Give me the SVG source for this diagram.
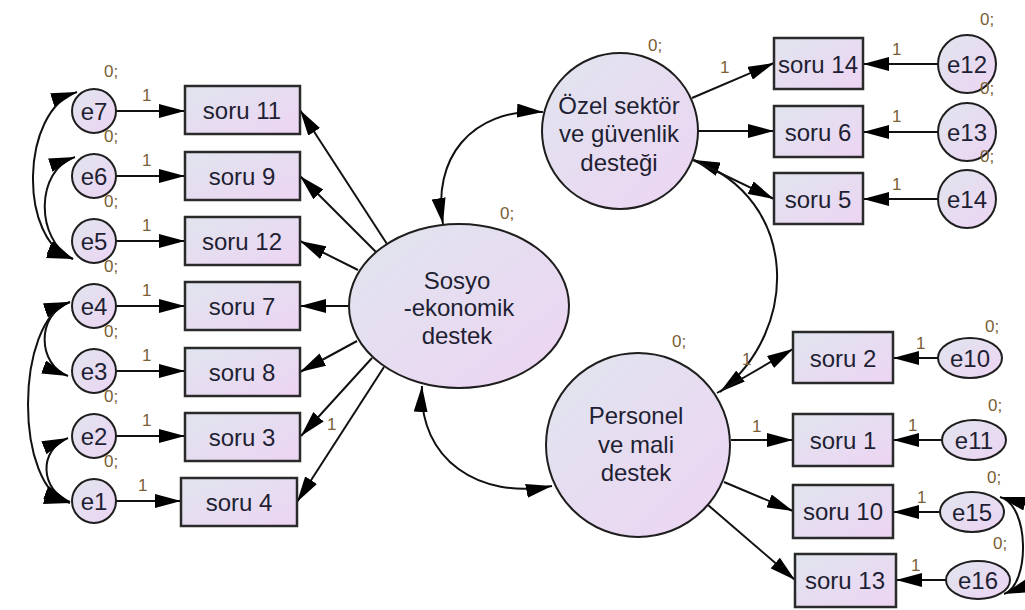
<svg xmlns="http://www.w3.org/2000/svg" width="1025" height="610" viewBox="0 0 1025 610">
  <style>
    .box { fill: url(#fillg); stroke: #2a2a2a; stroke-width: 2.5; }
    .node { fill: url(#fillg); stroke: #1e1e1e; stroke-width: 2; }
    .t { font-family: "Liberation Sans", Arial, sans-serif; font-size: 24px; fill: #1f1f33; text-anchor: middle; }
    .p { font-family: "Liberation Sans", Arial, sans-serif; font-size: 17px; fill: #7a6034; }
    .c { fill: none; stroke: #111; stroke-width: 2; }
    .a { marker-end: url(#ah); }
    .d { marker-start: url(#ah); marker-end: url(#ah); }
  </style>
  <defs>
    <linearGradient id="fillg" x1="0" y1="0" x2="1" y2="1">
      <stop offset="0" stop-color="#e0e5ee"/>
      <stop offset="1" stop-color="#edd4f3"/>
    </linearGradient>
    <marker id="ah" viewBox="0 0 26 14" refX="26" refY="7" markerWidth="26" markerHeight="14" markerUnits="userSpaceOnUse" orient="auto-start-reverse">
      <path d="M0,0 L26,7 L0,14 z" fill="#000"/>
    </marker>
  </defs>
  <rect width="1025" height="610" fill="#fff"/>

  <!-- paths, loadings and covariances -->
  <g id="connectors">
    <!-- error terms into left indicators -->
    <path class="c a" d="M116,111 L185,111"/>
    <path class="c a" d="M116,176 L185,176"/>
    <path class="c a" d="M116,241 L185,241"/>
    <path class="c a" d="M116,306 L185,306"/>
    <path class="c a" d="M116,371 L185,371"/>
    <path class="c a" d="M116,436 L185,436"/>
    <path class="c a" d="M116,501 L181,501"/>
    <!-- Sosyo-ekonomik destek loadings -->
    <path class="c a" d="M387,244 L300,110"/>
    <path class="c a" d="M376,252 L300,176"/>
    <path class="c a" d="M358,270 L300,241"/>
    <path class="c a" d="M349,306 L300,306"/>
    <path class="c a" d="M357,341 L300,372"/>
    <path class="c a" d="M372,358 L301,436"/>
    <path class="c a" d="M384,367 L297,502"/>
    <!-- error covariances, left -->
    <path class="c d" d="M77,92 C20,110 18,242 73,259"/>
    <path class="c d" d="M75,157 C35,170 35,240 73,259"/>
    <path class="c d" d="M70,302 C35,315 38,365 68,376"/>
    <path class="c d" d="M70,302 C14,320 14,490 70,503"/>
    <path class="c d" d="M68,438 C38,450 40,490 70,502"/>
    <!-- factor covariances -->
    <path class="c d" d="M443,224 C432,160 470,108 543,112"/>
    <path class="c d" d="M422,386 C418,460 480,500 552,486"/>
    <path class="c d" d="M694,160 C800,200 800,330 720,392"/>
    <!-- Özel sektör loadings -->
    <path class="c a" d="M692,98 L774,63"/>
    <path class="c a" d="M698,131 L774,131"/>
    <path class="c a" d="M693,160 L774,199"/>
    <path class="c a" d="M938,64 L863,64"/>
    <path class="c a" d="M938,132 L863,132"/>
    <path class="c a" d="M938,199 L863,199"/>
    <!-- Personel ve mali destek loadings -->
    <path class="c a" d="M717,393 L793,349"/>
    <path class="c a" d="M731,440 L793,440"/>
    <path class="c a" d="M724,482 L793,511"/>
    <path class="c a" d="M708,505 L795,580"/>
    <path class="c a" d="M938,358 L893,358"/>
    <path class="c a" d="M942,440 L893,440"/>
    <path class="c a" d="M940,512 L893,512"/>
    <path class="c a" d="M946,580 L896,580"/>
    <path class="c d" d="M1000,497 C1030,505 1030,585 1004,594"/>
    <!-- fixed loading labels -->
    <g class="p">
      <text x="142" y="101">1</text>
      <text x="142" y="166">1</text>
      <text x="142" y="231">1</text>
      <text x="142" y="296">1</text>
      <text x="142" y="361">1</text>
      <text x="142" y="426">1</text>
      <text x="138" y="491">1</text>
      <text x="327" y="430">1</text>
      <text x="720" y="73">1</text>
      <text x="892" y="55">1</text>
      <text x="892" y="122">1</text>
      <text x="892" y="190">1</text>
      <text x="742" y="365">1</text>
      <text x="752" y="432">1</text>
      <text x="916" y="349">1</text>
      <text x="908" y="431">1</text>
      <text x="917" y="503">1</text>
      <text x="911" y="571">1</text>
    </g>
  </g>

  <!-- latent factors -->
  <g id="sosyo">
    <ellipse class="node" cx="459" cy="306" rx="110" ry="82"/>
    <text class="t" x="457" y="289">Sosyo</text>
    <text class="t" x="459" y="316">-ekonomik</text>
    <text class="t" x="457" y="344">destek</text>
    <text class="p" x="500" y="219">0;</text>
  </g>
  <g id="ozel">
    <circle class="node" cx="620" cy="131" r="78"/>
    <text class="t" x="619" y="114">Özel sektör</text>
    <text class="t" x="619" y="142">ve güvenlik</text>
    <text class="t" x="619" y="171">desteği</text>
    <text class="p" x="648" y="51">0;</text>
  </g>
  <g id="personel">
    <circle class="node" cx="638" cy="445" r="92"/>
    <text class="t" x="636" y="424">Personel</text>
    <text class="t" x="636" y="453">ve mali</text>
    <text class="t" x="636" y="481">destek</text>
    <text class="p" x="672" y="347">0;</text>
  </g>

  <!-- left indicators -->
  <g id="soru11"><rect class="box" x="185" y="86" width="115" height="48"/><text class="t" x="242" y="119">soru 11</text></g>
  <g id="soru9"><rect class="box" x="185" y="152" width="115" height="48"/><text class="t" x="242" y="185">soru 9</text></g>
  <g id="soru12"><rect class="box" x="185" y="217" width="115" height="48"/><text class="t" x="242" y="250">soru 12</text></g>
  <g id="soru7"><rect class="box" x="185" y="282" width="115" height="48"/><text class="t" x="242" y="315">soru 7</text></g>
  <g id="soru8"><rect class="box" x="185" y="348" width="115" height="48"/><text class="t" x="242" y="381">soru 8</text></g>
  <g id="soru3"><rect class="box" x="185" y="413" width="115" height="48"/><text class="t" x="242" y="446">soru 3</text></g>
  <g id="soru4"><rect class="box" x="181" y="478" width="116" height="48"/><text class="t" x="239" y="511">soru 4</text></g>

  <!-- left error terms -->
  <g id="e7"><circle class="node" cx="94" cy="111" r="22"/><text class="t" x="94" y="120">e7</text><text class="p" x="104" y="77">0;</text></g>
  <g id="e6"><circle class="node" cx="94" cy="176" r="22"/><text class="t" x="94" y="185">e6</text><text class="p" x="104" y="142">0;</text></g>
  <g id="e5"><circle class="node" cx="94" cy="241" r="22"/><text class="t" x="94" y="250">e5</text><text class="p" x="104" y="207">0;</text></g>
  <g id="e4"><circle class="node" cx="94" cy="306" r="22"/><text class="t" x="94" y="315">e4</text><text class="p" x="104" y="272">0;</text></g>
  <g id="e3"><circle class="node" cx="94" cy="371" r="22"/><text class="t" x="94" y="380">e3</text><text class="p" x="104" y="337">0;</text></g>
  <g id="e2"><circle class="node" cx="94" cy="436" r="22"/><text class="t" x="94" y="445">e2</text><text class="p" x="104" y="402">0;</text></g>
  <g id="e1"><circle class="node" cx="94" cy="501" r="22"/><text class="t" x="94" y="510">e1</text><text class="p" x="104" y="467">0;</text></g>

  <!-- right upper indicators -->
  <g id="soru14"><rect class="box" x="774" y="38" width="89" height="51"/><text class="t" x="818" y="73">soru 14</text></g>
  <g id="soru6"><rect class="box" x="774" y="106" width="89" height="51"/><text class="t" x="818" y="141">soru 6</text></g>
  <g id="soru5"><rect class="box" x="774" y="173" width="89" height="51"/><text class="t" x="818" y="208">soru 5</text></g>
  <g id="e12"><circle class="node" cx="967" cy="64" r="29"/><text class="t" x="967" y="73">e12</text><text class="p" x="980" y="25">0;</text></g>
  <g id="e13"><circle class="node" cx="967" cy="132" r="29"/><text class="t" x="967" y="141">e13</text><text class="p" x="980" y="94">0;</text></g>
  <g id="e14"><circle class="node" cx="967" cy="199" r="29"/><text class="t" x="967" y="208">e14</text><text class="p" x="980" y="162">0;</text></g>

  <!-- right lower indicators -->
  <g id="soru2"><rect class="box" x="793" y="332" width="100" height="51"/><text class="t" x="843" y="367">soru 2</text></g>
  <g id="soru1"><rect class="box" x="793" y="414" width="100" height="52"/><text class="t" x="843" y="449">soru 1</text></g>
  <g id="soru10"><rect class="box" x="793" y="485" width="100" height="53"/><text class="t" x="843" y="520">soru 10</text></g>
  <g id="soru13"><rect class="box" x="795" y="554" width="101" height="53"/><text class="t" x="845" y="589">soru 13</text></g>
  <g id="e10"><ellipse class="node" cx="970" cy="358" rx="32" ry="20"/><text class="t" x="970" y="367">e10</text><text class="p" x="985" y="332">0;</text></g>
  <g id="e11"><ellipse class="node" cx="974" cy="440" rx="32" ry="20"/><text class="t" x="974" y="449">e11</text><text class="p" x="988" y="411">0;</text></g>
  <g id="e15"><ellipse class="node" cx="972" cy="512" rx="32" ry="20"/><text class="t" x="972" y="521">e15</text><text class="p" x="987" y="483">0;</text></g>
  <g id="e16"><ellipse class="node" cx="978" cy="580" rx="32" ry="19"/><text class="t" x="978" y="589">e16</text><text class="p" x="993" y="549">0;</text></g>
</svg>
